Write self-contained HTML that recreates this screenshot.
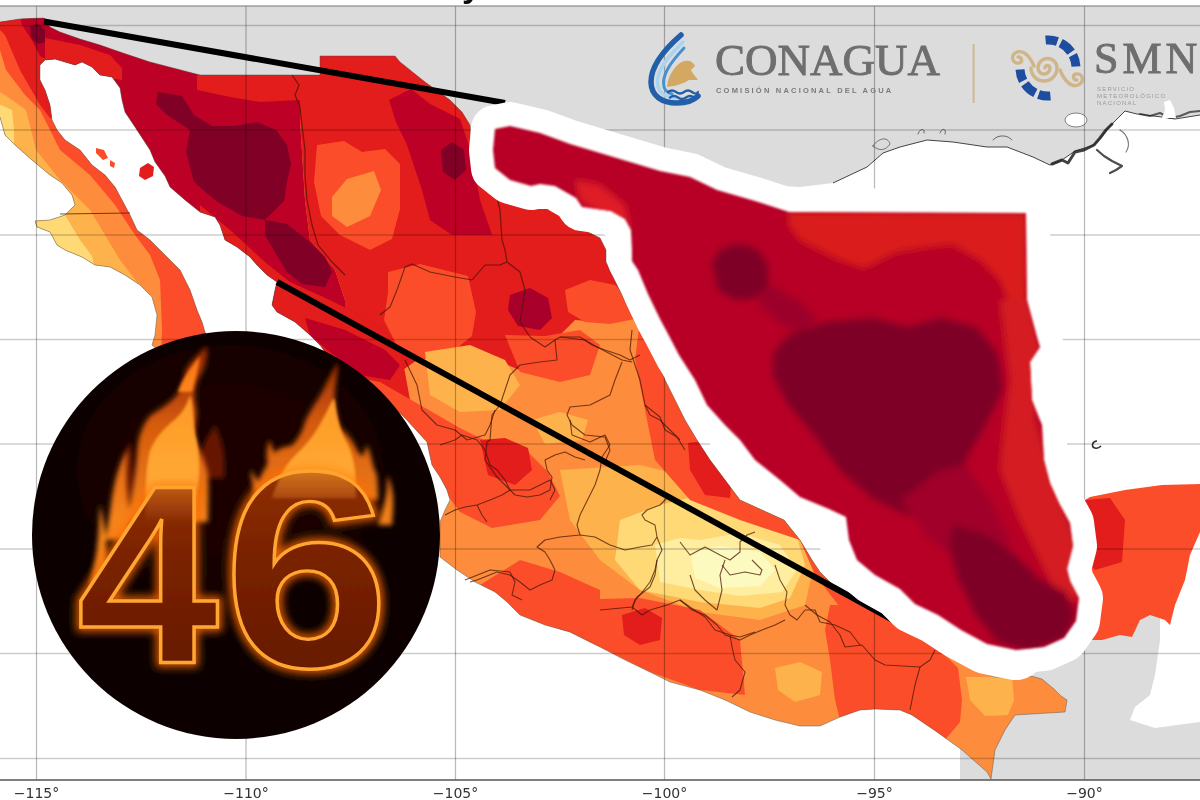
<!DOCTYPE html>
<html><head><meta charset="utf-8"><title>Mapa de temperaturas máximas</title>
<style>
html,body{margin:0;padding:0;width:1200px;height:800px;overflow:hidden;background:#fff}
svg{display:block}
</style></head><body>
<svg width="1200" height="800" viewBox="0 0 1200 800">
<defs>
 <clipPath id="mx"><path d="M-5,22 L0,22 L20,19 L44,18 L50,27 L60,32 L80,39 L100,45 L120,52 L150,62 L200,75 L320,75 L320,56 L395,56 L400,62 L425,82 L450,100 L462,112 L470,125 L472,150 L475,172 L489,192 L510,204 L540,207 L556,211 L570,221 L586,231 L600,238 L606,250 L606,262 L612,275 L618,287 L624,299 L630,312 L637,325 L645,338 L657,360 L665,380 L675,400 L685,420 L697,440 L710,460 L725,480 L740,500 L762,510 L784,520 L800,540 L812,560 L820,572 L836,588 L852,600 L870,608 L886,616 L900,626 L916,636 L930,642 L944,648 L960,656 L975,668 L994,677 L1012,677 L1031,676 L1042,679 L1054,689 L1061,696 L1067,700 L1065,712 L1015,715 L1005,730 L995,750 L991,779 L987,772 L962,750 L937,732 L912,715 L900,710 L875,709 L860,710 L840,717 L820,726 L800,726 L775,720 L750,712 L725,700 L700,690 L670,682 L650,672 L625,660 L600,647 L570,632 L545,625 L520,615 L507,602 L495,592 L475,582 L457,570 L440,557 L440,522 L445,510 L450,500 L447,490 L440,477 L432,465 L427,442 L416,430 L405,418 L392,405 L375,390 L355,375 L340,365 L327,355 L320,345 L310,335 L295,322 L277,312 L272,305 L275,290 L277,282 L267,275 L257,265 L250,257 L237,247 L225,240 L220,225 L215,217 L200,212 L185,200 L170,187 L165,176 L155,162 L150,150 L135,127 L125,112 L122,100 L120,88 L112,77 L100,75 L92,67 L82,62 L75,65 L55,59 L45,60 L40,65 L40,80 L45,90 L50,105 L52,120 L57,130 L65,140 L80,150 L92,165 L105,175 L115,187 L122,200 L130,215 L137,230 L150,240 L165,255 L180,270 L190,290 L197,310 L202,322 L205,332 L215,360 L180,370 L152,345 L155,335 L157,315 L152,297 L140,285 L125,275 L110,267 L95,265 L82,257 L65,250 L57,245 L50,232 L37,227 L35,221 L50,220 L65,215 L75,205 L72,195 L62,183 L50,175 L32,160 L15,145 L5,135 L0,117 L-5,117 Z"/></clipPath>
 <clipPath id="rs"><path d="M495,129 L510,126 L540,133 L570,144 L600,153 L630,162 L660,171 L690,177 L717,190 L755,201 L789,212 L1026,213 L1027,300 L1037,337 L1040,347 L1030,362 L1032,400 L1042,425 L1044,460 L1050,483 L1059,503 L1070,523 L1073,546 L1067,569 L1070,581 L1079,598 L1076,621 L1064,638 L1044,647 L1016,650 L987,644 L961,630 L938,615 L915,604 L900,589 L875,575 L857,560 L849,540 L846,517 L829,509 L800,497 L780,480 L755,460 L740,440 L725,425 L707,405 L695,380 L679,355 L667,332 L660,319 L648,294 L638,270 L632,261 L632,250 L631,230 L625,219 L611,211 L582,207 L576,198 L555,186 L540,184 L531,186 L510,180 L495,168 L493,150 Z"/></clipPath>
 <clipPath id="circ"><circle cx="236" cy="535" r="204"/></clipPath>
 <filter id="global" x="0" y="0" width="1200" height="800" filterUnits="userSpaceOnUse"><feGaussianBlur stdDeviation="0.55" edgeMode="duplicate"/></filter>
 <filter id="soft" x="-5%" y="-5%" width="110%" height="110%"><feGaussianBlur stdDeviation="0.7"/></filter>
 <filter id="blob" x="-5%" y="-5%" width="110%" height="110%"><feGaussianBlur stdDeviation="3.5"/></filter>
 <filter id="edge" x="-5%" y="-5%" width="110%" height="110%"><feGaussianBlur stdDeviation="1.3"/></filter>
 <filter id="glow" x="-20%" y="-20%" width="140%" height="140%"><feGaussianBlur stdDeviation="4"/></filter>
 <filter id="fl" x="-50%" y="-50%" width="200%" height="200%"><feGaussianBlur stdDeviation="2.5"/></filter>
 <filter id="fl2" x="-50%" y="-50%" width="200%" height="200%"><feGaussianBlur stdDeviation="1.6"/></filter>
 <filter id="haze" x="-50%" y="-50%" width="200%" height="200%"><feGaussianBlur stdDeviation="30"/></filter>
 <linearGradient id="fgo" gradientUnits="userSpaceOnUse" x1="0" y1="345" x2="0" y2="520"><stop offset="0" stop-color="#9a2800"/><stop offset="0.45" stop-color="#e0600c"/><stop offset="1" stop-color="#ff8a1c"/></linearGradient>
 <linearGradient id="fgi" gradientUnits="userSpaceOnUse" x1="0" y1="360" x2="0" y2="520"><stop offset="0" stop-color="#ff7a14"/><stop offset="0.6" stop-color="#ffa630"/><stop offset="1" stop-color="#ffc050"/></linearGradient>
 <linearGradient id="fgov" gradientUnits="userSpaceOnUse" x1="0" y1="470" x2="0" y2="524"><stop offset="0" stop-color="#ffa630" stop-opacity="0.75"/><stop offset="1" stop-color="#ff8a20" stop-opacity="0"/></linearGradient>
 <linearGradient id="dg" x1="0" y1="0" x2="0" y2="1"><stop offset="0" stop-color="#a03a08"/><stop offset="0.45" stop-color="#7a2204"/><stop offset="1" stop-color="#5e1602"/></linearGradient>
</defs>
<g filter="url(#global)">
<rect width="1200" height="800" fill="#fff"/>
<path d="M0,6 L1200,6 L1200,115 L1175,119 L1162,117 L1137,114 L1125,111 L1116,120 L1110,126 L1102,136 L1094,145 L1075,151 L1062,160 L1050,165 L1033,157 L1007,147 L987,147 L953,142 L927,140 L900,147 L883,153 L867,167 L833,183 L800,187 L760,185 L700,200 L480,200 L300,100 L0,30 Z" fill="#dcdcdc"/>
<path d="M1000,640 L1100,600 L1160,600 L1160,640 L1155,675 L1150,695 L1135,707 L1130,720 L1155,728 L1200,722 L1200,780 L960,780 L960,700 Z" fill="#dcdcdc"/>
<polyline points="1200,115 1175,119 1162,117 1137,114 1125,111 1116,120 1110,126 1102,136 1094,145 1075,151 1062,160 1050,165 1033,157 1007,147 987,147 953,142 927,140 900,147 883,153 867,167 833,183" fill="none" stroke="#444" stroke-width="1"/>
<ellipse cx="1076" cy="120" rx="11" ry="7" fill="#fff" stroke="#666" stroke-width="0.8"/>
<g fill="none" stroke="#222" stroke-linecap="round" stroke-linejoin="round">
 <path d="M1052,164 L1062,160 L1068,163 L1075,152 L1084,150 L1094,145 L1100,138 L1106,130 L1112,124" stroke-width="3" stroke-opacity="0.85"/>
 <path d="M1097,150 L1104,156 L1112,161 L1122,166 L1116,170 L1110,173" stroke-width="2.2" stroke-opacity="0.8"/>
 <path d="M1120,130 C1128,135 1131,145 1126,152" stroke-width="1.2" stroke-opacity="0.6"/>
 <path d="M1140,114 L1150,116 L1160,113 L1170,118 L1180,116 L1190,112 L1200,111" stroke-width="2" stroke-opacity="0.7"/>
 <path d="M873,146 C878,138 888,136 890,144 C886,150 880,152 873,146 Z" stroke-width="0.8" stroke-opacity="0.7"/>
 <path d="M918,134 C920,128 925,128 924,133 M940,133 C942,127 947,129 945,134" stroke-width="0.9" stroke-opacity="0.7"/>
 <path d="M993,140 C998,134 1008,135 1012,140" stroke-width="0.9" stroke-opacity="0.7"/>
</g>
<path d="M1097,441 C1092,441 1091,447 1095,448 C1098,449 1100,447 1101,446" fill="none" stroke="#333" stroke-width="1.6"/>
<path d="M1164,102 L1170,100 L1174,108 L1176,118 L1162,118 L1165,110 Z" fill="#fff"/>
<g filter="url(#soft)">
<path d="M-5,22 L0,22 L20,19 L44,18 L50,27 L60,32 L80,39 L100,45 L120,52 L150,62 L200,75 L320,75 L320,56 L395,56 L400,62 L425,82 L450,100 L462,112 L470,125 L472,150 L475,172 L489,192 L510,204 L540,207 L556,211 L570,221 L586,231 L600,238 L606,250 L606,262 L612,275 L618,287 L624,299 L630,312 L637,325 L645,338 L657,360 L665,380 L675,400 L685,420 L697,440 L710,460 L725,480 L740,500 L762,510 L784,520 L800,540 L812,560 L820,572 L836,588 L852,600 L870,608 L886,616 L900,626 L916,636 L930,642 L944,648 L960,656 L975,668 L994,677 L1012,677 L1031,676 L1042,679 L1054,689 L1061,696 L1067,700 L1065,712 L1015,715 L1005,730 L995,750 L991,779 L987,772 L962,750 L937,732 L912,715 L900,710 L875,709 L860,710 L840,717 L820,726 L800,726 L775,720 L750,712 L725,700 L700,690 L670,682 L650,672 L625,660 L600,647 L570,632 L545,625 L520,615 L507,602 L495,592 L475,582 L457,570 L440,557 L440,522 L445,510 L450,500 L447,490 L440,477 L432,465 L427,442 L416,430 L405,418 L392,405 L375,390 L355,375 L340,365 L327,355 L320,345 L310,335 L295,322 L277,312 L272,305 L275,290 L277,282 L267,275 L257,265 L250,257 L237,247 L225,240 L220,225 L215,217 L200,212 L185,200 L170,187 L165,176 L155,162 L150,150 L135,127 L125,112 L122,100 L120,88 L112,77 L100,75 L92,67 L82,62 L75,65 L55,59 L45,60 L40,65 L40,80 L45,90 L50,105 L52,120 L57,130 L65,140 L80,150 L92,165 L105,175 L115,187 L122,200 L130,215 L137,230 L150,240 L165,255 L180,270 L190,290 L197,310 L202,322 L205,332 L215,360 L180,370 L152,345 L155,335 L157,315 L152,297 L140,285 L125,275 L110,267 L95,265 L82,257 L65,250 L57,245 L50,232 L37,227 L35,221 L50,220 L65,215 L75,205 L72,195 L62,183 L50,175 L32,160 L15,145 L5,135 L0,117 L-5,117 Z" fill="#fd8d3c"/>
<g clip-path="url(#mx)">
<path d="M0,50 L6,70 L25,95 L40,110 L60,150 L90,175 L115,205 L135,235 L150,255 L160,280 L162,330 L160,380 L215,380 L220,340 L215,300 L200,260 L180,230 L150,195 L120,165 L100,130 L80,100 L60,70 L45,40 L45,10 L0,10 Z" fill="#fc4e2a" /><path d="M0,10 L45,10 L45,40 L60,70 L62,120 L50,118 L40,105 L20,70 L5,35 L0,30 Z" fill="#e31a1c" /><path d="M18,10 L48,10 L48,60 L40,56 L32,40 L22,25 Z" fill="#bd0026" /><path d="M30,26 L38,24 L45,30 L45,42 L38,44 L31,38 Z" fill="#800026" /><path d="M-10,85 L12,100 L26,110 L36,150 L60,180 L90,210 L105,235 L120,260 L140,286 L152,330 L155,380 L-10,380 Z" fill="#feb24c" /><path d="M-10,100 L12,110 L14,130 L14,150 L30,170 L50,190 L65,215 L80,240 L92,256 L100,290 L-10,290 Z" fill="#fed976" /><path d="M45,0 L320,0 L320,75 L300,75 L300,120 L305,200 L310,240 L335,270 L345,300 L345,345 L240,345 L235,300 L200,250 L150,200 L110,150 L85,100 L45,57 Z" fill="#bd0026" /><path d="M45,38 L80,45 L110,55 L122,68 L122,80 L95,76 L60,64 L45,60 Z" fill="#e31a1c" /><path d="M197,74 L300,74 L300,100 L260,102 L230,97 L197,90 Z" fill="#e31a1c" /><path d="M300,30 L480,30 L480,130 L520,190 L600,225 L630,270 L640,300 L630,318 L600,322 L575,320 L560,335 L545,350 L520,370 L490,358 L470,350 L440,360 L420,358 L400,372 L380,380 L345,345 L345,300 L335,270 L310,240 L305,200 L300,120 Z" fill="#e31a1c" /><path d="M200,205 L230,230 L265,262 L290,282 L330,300 L370,320 L400,345 L410,400 L380,420 L300,380 L260,330 L230,280 L200,240 Z" fill="#e31a1c" /><path d="M305,318 L345,330 L385,350 L400,365 L390,380 L360,375 L330,352 L310,335 Z" fill="#bd0026" /><path d="M158,92 L182,96 L194,115 L212,126 L235,126 L257,122 L276,130 L287,145 L291,164 L287,182 L284,201 L265,220 L242,216 L216,201 L194,182 L186,152 L190,130 L167,115 L156,104 Z" fill="#800026" /><path d="M265,220 L287,224 L310,242 L325,257 L332,272 L325,287 L302,284 L287,272 L276,254 L265,235 Z" fill="#800026" /><path d="M317,145 L344,141 L362,152 L385,149 L400,164 L400,209 L392,239 L370,250 L340,235 L321,216 L314,182 Z" fill="#fc4e2a" /><path d="M332,197 L347,179 L374,171 L381,190 L370,216 L347,227 L332,216 Z" fill="#fd8d3c" /><path d="M389,100 L411,89 L430,104 L460,119 L471,152 L480,200 L492,235 L452,235 L430,220 L422,190 L407,145 L396,122 Z" fill="#bd0026" /><path d="M441,150 L452,142 L464,150 L466,170 L455,180 L443,172 Z" fill="#800026" /><path d="M388,272 L420,264 L468,276 L476,312 L472,336 L452,352 L420,360 L396,344 L384,320 L388,292 Z" fill="#fc4e2a" /><path d="M505,335 L545,336 L580,330 L600,345 L590,375 L560,382 L520,372 Z" fill="#fc4e2a" /><path d="M510,295 L530,288 L548,298 L552,318 L540,330 L518,326 L508,310 Z" fill="#a8002a" /><path d="M565,290 L590,280 L615,285 L632,300 L640,318 L610,324 L585,322 L568,312 Z" fill="#fc4e2a" /><path d="M330,372 L380,382 L420,405 L460,428 L484,440 L524,448 L548,472 L560,496 L540,520 L492,528 L460,512 L436,480 L420,460 L400,450 L360,420 Z" fill="#fc4e2a" /><path d="M480,440 L505,438 L528,448 L532,470 L515,485 L488,475 Z" fill="#e31a1c" /><path d="M532,420 L560,412 L588,420 L582,440 L545,444 Z" fill="#feb24c" /><path d="M560,470 L640,465 L700,480 L760,490 L800,515 L815,560 L805,605 L760,620 L700,612 L640,590 L600,560 L570,520 Z" fill="#feb24c" /><path d="M425,352 L470,345 L505,360 L520,385 L500,410 L460,412 L430,395 Z" fill="#feb24c" /><path d="M620,520 L660,505 L700,495 L760,505 L795,530 L805,565 L790,598 L760,608 L700,602 L640,590 L615,560 Z" fill="#fed976" /><path d="M655,545 L680,538 L700,540 L740,533 L780,545 L797,570 L782,592 L740,596 L700,590 L660,582 Z" fill="#ffeda0" /><path d="M690,552 L720,546 L760,552 L775,570 L760,586 L720,588 L695,578 Z" fill="#fdfac0" /><path d="M640,320 L665,345 L700,400 L745,455 L800,510 L840,580 L880,620 L940,650 L900,660 L850,620 L815,575 L800,540 L740,520 L690,500 L655,460 L645,410 L635,360 Z" fill="#fc4e2a" /><path d="M688,443 L710,440 L732,470 L730,498 L705,495 L690,470 Z" fill="#e31a1c" /><path d="M655,330 L690,375 L720,420 L760,460 L800,490 L830,505 L780,500 L740,470 L705,430 L675,390 Z" fill="#e31a1c" /><path d="M480,585 L520,560 L560,572 L600,590 L600,647 L570,632 L545,625 L520,615 L507,602 L495,592 Z" fill="#fc4e2a" /><path d="M560,600 L640,598 L700,610 L740,640 L745,695 L700,690 L650,672 L600,647 L560,630 Z" fill="#fc4e2a" /><path d="M622,615 L645,608 L662,618 L660,640 L640,645 L624,635 Z" fill="#e31a1c" /><path d="M830,605 L870,605 L940,650 L958,668 L962,700 L960,722 L945,740 L930,732 L900,710 L860,712 L840,720 L835,700 L830,660 L825,630 Z" fill="#fc4e2a" /><path d="M775,668 L800,662 L822,672 L820,695 L795,702 L778,690 Z" fill="#feb24c" /><path d="M966,677 L1012,677 L1014,700 L1008,715 L985,716 L970,700 Z" fill="#feb24c" />
</g>
<path d="M-5,22 L0,22 L20,19 L44,18 L50,27 L60,32 L80,39 L100,45 L120,52 L150,62 L200,75 L320,75 L320,56 L395,56 L400,62 L425,82 L450,100 L462,112 L470,125 L472,150 L475,172 L489,192 L510,204 L540,207 L556,211 L570,221 L586,231 L600,238 L606,250 L606,262 L612,275 L618,287 L624,299 L630,312 L637,325 L645,338 L657,360 L665,380 L675,400 L685,420 L697,440 L710,460 L725,480 L740,500 L762,510 L784,520 L800,540 L812,560 L820,572 L836,588 L852,600 L870,608 L886,616 L900,626 L916,636 L930,642 L944,648 L960,656 L975,668 L994,677 L1012,677 L1031,676 L1042,679 L1054,689 L1061,696 L1067,700 L1065,712 L1015,715 L1005,730 L995,750 L991,779 L987,772 L962,750 L937,732 L912,715 L900,710 L875,709 L860,710 L840,717 L820,726 L800,726 L775,720 L750,712 L725,700 L700,690 L670,682 L650,672 L625,660 L600,647 L570,632 L545,625 L520,615 L507,602 L495,592 L475,582 L457,570 L440,557 L440,522 L445,510 L450,500 L447,490 L440,477 L432,465 L427,442 L416,430 L405,418 L392,405 L375,390 L355,375 L340,365 L327,355 L320,345 L310,335 L295,322 L277,312 L272,305 L275,290 L277,282 L267,275 L257,265 L250,257 L237,247 L225,240 L220,225 L215,217 L200,212 L185,200 L170,187 L165,176 L155,162 L150,150 L135,127 L125,112 L122,100 L120,88 L112,77 L100,75 L92,67 L82,62 L75,65 L55,59 L45,60 L40,65 L40,80 L45,90 L50,105 L52,120 L57,130 L65,140 L80,150 L92,165 L105,175 L115,187 L122,200 L130,215 L137,230 L150,240 L165,255 L180,270 L190,290 L197,310 L202,322 L205,332 L215,360 L180,370 L152,345 L155,335 L157,315 L152,297 L140,285 L125,275 L110,267 L95,265 L82,257 L65,250 L57,245 L50,232 L37,227 L35,221 L50,220 L65,215 L75,205 L72,195 L62,183 L50,175 L32,160 L15,145 L5,135 L0,117 L-5,117 Z" fill="none" stroke="#555" stroke-width="0.8" stroke-opacity="0.6"/>
<g fill="none" stroke="#4a1808" stroke-width="1.1" stroke-opacity="0.75" stroke-linejoin="round"><polyline points="570,420 572,435 590,442 605,435 610,445 602,457 600,470 595,485 590,495 585,505 580,515 577,525 580,535 560,537 545,540 537,547 545,552 550,560 555,570 552,580 540,585 530,590 520,582 510,575 497,572 477,580 470,582"/><polyline points="580,535 595,537 610,545 625,550 640,547 652,545 657,537 655,525 645,520 642,515 647,510 660,505 670,495"/><polyline points="657,537 662,550 657,560 655,570 650,582 640,595 635,600 632,610"/><polyline points="440,445 455,440 462,435 477,440 485,450 490,465 497,470 505,480 510,490 515,495 527,497 540,495 550,490 552,477 547,470 545,460 555,455 565,452 575,457 585,460"/><polyline points="510,490 502,495 490,500 477,505 465,507 455,510 445,515"/><polyline points="477,505 482,515 487,522"/><polyline points="465,580 490,570 510,572 515,582 512,595 522,600"/><polyline points="60,214 130,213"/><polyline points="292,75 299,85 295,95 300,107 302,125 305,150 305,175 307,200 312,225 318,245 332,262 345,275"/><polyline points="380,315 390,307 397,290 405,267 412,264 430,272 455,277 472,280 485,265 500,265 507,262 505,250 502,240 500,210 495,190"/><polyline points="507,262 520,272 525,290 522,310 520,322 530,337 545,347 555,340 560,337 580,337 592,345 605,350 620,355 630,360 640,355"/><polyline points="555,340 557,360 540,362 520,365 510,375 505,390 500,405 492,415 490,440 487,442 485,460 497,477 510,490 530,490 550,480 555,490 550,500"/><polyline points="632,330 630,350 635,365 640,380 645,405 650,415 660,420 670,430 680,440"/><polyline points="560,337 585,340 597,347 622,360 632,362"/><polyline points="622,362 615,380 610,395 590,405 570,407 567,415 572,425 585,435 605,437 610,450 605,462"/><polyline points="645,405 660,417 665,430 677,437 685,450"/><polyline points="405,360 417,385 422,410 437,425 455,430 467,440 485,435 490,425 495,410"/><polyline points="680,542 690,555 705,547 720,555 730,560 740,552 740,542 747,535 755,532"/><polyline points="722,565 730,575 745,572 760,575 762,570 752,560"/><polyline points="775,565 780,580 787,592 785,605 790,615 797,620 805,610 815,610 820,622 835,625 850,632 860,645"/><polyline points="680,600 692,610 705,615 717,625 725,635 740,640 750,635 762,630 775,625 785,620"/><polyline points="600,610 632,607 637,597 650,587 655,575 657,560"/><polyline points="632,607 642,615 650,610 667,605 680,600 690,607 705,617 715,630 730,635 740,637 755,632"/><polyline points="730,635 732,647 735,660 745,672 740,690 732,697"/><polyline points="690,575 695,590 705,600 717,610 722,590 720,575 725,560"/><polyline points="805,605 817,615 830,622 840,635 845,647 862,645 875,660 885,665 920,667 930,660 935,650"/><polyline points="920,667 915,685 912,700 910,710"/><polyline points="1185,485 1185,505 1175,525 1160,537 1140,550 1120,565 1110,567 1100,555"/><polyline points="1117,567 1117,605 1120,635"/></g>
<path d="M1085,500 L1090,497 L1125,490 L1162,485 L1200,484 L1200,532 L1190,555 L1185,580 L1175,605 L1170,625 L1165,620 L1150,615 L1140,620 L1132,637 L1120,635 L1102,640 L1085,640 Z" fill="#fc4e2a"/>
<path d="M140,168 L148,163 L154,167 L153,176 L145,180 L139,176 Z" fill="#e31a1c"/>
<path d="M96,148 L104,150 L108,158 L103,160 L96,153 Z M110,160 L115,163 L114,168 L110,166 Z" fill="#fc4e2a"/>
<path d="M1085,500 L1110,498 L1125,520 L1122,562 L1095,570 L1085,560 Z" fill="#e31a1c"/>
</g>
<line x1="36.5" y1="6" x2="36.5" y2="780" stroke="#000" stroke-opacity="0.28" stroke-width="1.2"/>
<line x1="246" y1="6" x2="246" y2="780" stroke="#000" stroke-opacity="0.28" stroke-width="1.2"/>
<line x1="455.5" y1="6" x2="455.5" y2="780" stroke="#000" stroke-opacity="0.28" stroke-width="1.2"/>
<line x1="664.5" y1="6" x2="664.5" y2="780" stroke="#000" stroke-opacity="0.28" stroke-width="1.2"/>
<line x1="874.5" y1="6" x2="874.5" y2="780" stroke="#000" stroke-opacity="0.28" stroke-width="1.2"/>
<line x1="1084.5" y1="6" x2="1084.5" y2="780" stroke="#000" stroke-opacity="0.28" stroke-width="1.2"/>
<line x1="0" y1="25.5" x2="1200" y2="25.5" stroke="#000" stroke-opacity="0.2" stroke-width="1.6"/>
<line x1="0" y1="130" x2="1200" y2="130" stroke="#000" stroke-opacity="0.2" stroke-width="1.6"/>
<line x1="0" y1="235" x2="1200" y2="235" stroke="#000" stroke-opacity="0.2" stroke-width="1.6"/>
<line x1="0" y1="339.5" x2="1200" y2="339.5" stroke="#000" stroke-opacity="0.2" stroke-width="1.6"/>
<line x1="0" y1="444" x2="1200" y2="444" stroke="#000" stroke-opacity="0.2" stroke-width="1.6"/>
<line x1="0" y1="549" x2="1200" y2="549" stroke="#000" stroke-opacity="0.2" stroke-width="1.6"/>
<line x1="0" y1="653.5" x2="1200" y2="653.5" stroke="#000" stroke-opacity="0.2" stroke-width="1.6"/>
<line x1="0" y1="758.5" x2="1200" y2="758.5" stroke="#000" stroke-opacity="0.2" stroke-width="1.6"/>
<line x1="0" y1="6" x2="1200" y2="6" stroke="#777" stroke-width="1.2"/>
<line x1="0" y1="780" x2="1200" y2="780" stroke="#555" stroke-width="1.3"/>
<g font-family="DejaVu Sans, sans-serif" font-size="14" fill="#333" text-anchor="middle">
<text x="36.5" y="798">−115°</text><text x="246" y="798">−110°</text><text x="455.5" y="798">−105°</text><text x="664.5" y="798">−100°</text><text x="874.5" y="798">−95°</text><text x="1084.5" y="798">−90°</text>
</g>
<text x="462" y="-3" font-family="Liberation Sans, sans-serif" font-weight="bold" font-size="34" fill="#111">y</text>

<g fill="none" stroke-linecap="round">
 <path d="M681,35 C666,48 651,64 651,82 C651,96 662,103 677,103 C687,103 694,100 698,96" stroke="#245fa8" stroke-width="5.5"/>
 <path d="M683,42 C670,55 657.5,68 657.5,82 C657.5,93 666,98 678,98" stroke="#a8d4f0" stroke-width="3.5"/>
 <path d="M684,48 C674,59 663.5,71 663.5,83 C663.5,89 667,93 672,94" stroke="#4a90d0" stroke-width="3"/>
 <path d="M668,92 q4,-3 8,0 t8,0 t8,0 t6,0" stroke="#245fa8" stroke-width="2.2"/>
 <path d="M670,97.5 q4,-3 8,0 t8,0 t8,0" stroke="#245fa8" stroke-width="2.2"/>
</g>
<path d="M667,87 C668,77 673,68 680,63 C687,59 693,61 695,66 L691,70 C693,74 696,77 698,80 L689,80 C685,83 676,86 667,87 Z" fill="#d3a862"/>
<g fill="none" stroke="#1d4e9e" stroke-width="9">
 <path d="M1045.6,40.1 A28,28 0 0 1 1076,66.5" stroke-dasharray="12 3.5 14 3.5 13"/>
 <path d="M1050.4,95.9 A28,28 0 0 1 1020,69.5" stroke-dasharray="12 3.5 14 3.5 13"/>
</g>
<g fill="none" stroke="#cfb588" stroke-width="3.4" stroke-linecap="round">
 <path d="M1047,68 m-2,0 a2.5,2.5 0 1 1 5,0 a6,6 0 1 1 -12,0 a9.5,9.5 0 1 1 19,0 a13,13 0 1 1 -26,0"/>
 <path d="M1034,66 C1030,57 1024,50 1017,52 C1010,55 1012,64 1019,63 C1023,62 1022,57 1018,57"/>
 <path d="M1060,70 C1064,80 1071,88 1078,85 C1085,82 1083,73 1076,74 C1072,75 1073,80 1077,80"/>
</g>
<g font-family="Liberation Serif, serif" fill="#6e6e6e" stroke="#6e6e6e" stroke-width="0.9">
 <text x="715" y="75" font-size="45">CONAGUA</text>
 <text x="1094" y="73" font-size="44" letter-spacing="4">SMN</text>
</g>
<text x="716" y="92.5" font-family="Liberation Sans, sans-serif" font-weight="bold" font-size="7.5" fill="#7a7a7a" letter-spacing="2.2">COMISIÓN NACIONAL DEL AGUA</text>
<g font-family="Liberation Sans, sans-serif" font-size="6" fill="#9a9a9a" letter-spacing="1.2">
 <text x="1097" y="91">SERVICIO</text>
 <text x="1097" y="98">METEOROLÓGICO</text>
 <text x="1097" y="105">NACIONAL</text>
</g>
<line x1="973.6" y1="44" x2="973.6" y2="103" stroke="#cdb994" stroke-width="2"/>

<!-- black lines -->
<path d="M44,21.5 L505,103" stroke="#000" stroke-width="6"/>
<path d="M277,282 L955,654" stroke="#000" stroke-width="6"/>
<!-- zoom blob -->
<path d="M495,129 L510,126 L540,133 L570,144 L600,153 L630,162 L660,171 L690,177 L717,190 L755,201 L789,212 L1026,213 L1027,300 L1037,337 L1040,347 L1030,362 L1032,400 L1042,425 L1044,460 L1050,483 L1059,503 L1070,523 L1073,546 L1067,569 L1070,581 L1079,598 L1076,621 L1064,638 L1044,647 L1016,650 L987,644 L961,630 L938,615 L915,604 L900,589 L875,575 L857,560 L849,540 L846,517 L829,509 L800,497 L780,480 L755,460 L740,440 L725,425 L707,405 L695,380 L679,355 L667,332 L660,319 L648,294 L638,270 L632,261 L632,250 L631,230 L625,219 L611,211 L582,207 L576,198 L555,186 L540,184 L531,186 L510,180 L495,168 L493,150 Z" fill="#fff" stroke="#fff" stroke-width="48" stroke-linejoin="round"/>
<polyline points="846,517 849,540 857,560 875,575 900,589 915,604 938,615 961,630 987,644 1016,650" fill="none" stroke="#fff" stroke-width="60" stroke-linejoin="round" stroke-linecap="round"/>
<g filter="url(#edge)">
<path d="M495,129 L510,126 L540,133 L570,144 L600,153 L630,162 L660,171 L690,177 L717,190 L755,201 L789,212 L1026,213 L1027,300 L1037,337 L1040,347 L1030,362 L1032,400 L1042,425 L1044,460 L1050,483 L1059,503 L1070,523 L1073,546 L1067,569 L1070,581 L1079,598 L1076,621 L1064,638 L1044,647 L1016,650 L987,644 L961,630 L938,615 L915,604 L900,589 L875,575 L857,560 L849,540 L846,517 L829,509 L800,497 L780,480 L755,460 L740,440 L725,425 L707,405 L695,380 L679,355 L667,332 L660,319 L648,294 L638,270 L632,261 L632,250 L631,230 L625,219 L611,211 L582,207 L576,198 L555,186 L540,184 L531,186 L510,180 L495,168 L493,150 Z" fill="#b80426"/>
<g clip-path="url(#rs)">
<g filter="url(#blob)">
<path d="M789,212 L1026,213 L1026,300 L1008,300 L1000,280 L980,260 L952,244 L920,248 L896,252 L864,268 L840,260 L800,240 L789,225 Z" fill="#da1a1a" /><path d="M1000,300 L1030,300 L1040,350 L1035,420 L1050,470 L1075,540 L1078,600 L1060,600 L1040,560 L1020,520 L1000,470 L1005,420 L1010,380 Z" fill="#d41a22" /><path d="M575,180 L600,185 L625,205 L630,230 L615,225 L595,210 L580,200 Z" fill="#e01a28" /><path d="M758,280 L780,290 L800,302 L818,318 L800,335 L778,322 L760,305 Z" fill="#9c0629" /><path d="M712,262 L722,248 L740,244 L758,250 L768,265 L768,285 L756,298 L735,300 L718,290 Z" fill="#7e0026" /><path d="M773,354 L787,336 L827,322 L872,318 L908,327 L940,318 L976,327 L998,354 L1003,390 L985,426 L967,457 L958,489 L940,507 L908,516 L872,498 L841,471 L814,435 L787,403 L773,376 Z" fill="#7e0026" /><path d="M900,500 L940,470 L965,465 L990,500 L1010,540 L1000,560 L960,560 L930,540 Z" fill="#a00429" /><path d="M953,525 L985,534 L1012,552 L1039,579 L1066,592 L1075,615 L1066,637 L1030,651 L998,642 L976,615 L958,579 L949,547 Z" fill="#7e0026" />
</g>
</g>
</g>

<circle cx="236" cy="535" r="204" fill="#0c0300"/>
<g clip-path="url(#circ)">
 <ellipse cx="230" cy="470" rx="150" ry="120" fill="#3a0e02" opacity="0.35" filter="url(#haze)"/>
 <g filter="url(#fl)" fill="#7a1c02" opacity="0.8"><path d="M194,478 C198,455 205,440 215,425 C222,440 226,455 224,478 Z"/><path d="M110,535 C115,500 120,470 130,440 C134,470 136,500 138,535 Z"/></g>
 <g filter="url(#fl)" fill="url(#fgo)" opacity="0.95"><path d="M127,522 C132,495 136,470 137,452 C138,438 142,425 150,416 C158,410 168,405 176,396 C182,388 184,378 186,370 C190,362 198,354 207,346 C208,356 206,365 201,374 C196,382 193,392 196,407 C198,418 193,428 196,440 C200,452 206,462 208,475 C209,490 208,505 208,522 Z"/><path d="M252,500 C258,485 262,470 270,461 C272,452 280,447 291,446 C298,440 302,432 305,422 C310,410 318,400 322,392 C328,380 333,370 338,362 C338,372 336,380 335,392 C334,405 336,420 342,430 C350,436 354,444 358,452 C364,458 372,464 376,472 C378,480 378,490 378,500 Z"/><path d="M105.0,540.0 Q106.9,530.8 107.7,526.2 Q108.5,521.6 109.2,517.0 Q109.9,512.4 110.5,507.8 Q111.1,503.2 111.8,498.6 Q112.5,494.0 113.4,489.4 Q114.3,484.8 115.4,480.2 Q116.6,475.6 118.1,471.0 Q119.5,466.4 121.4,461.8 Q123.3,457.2 125.7,452.6 Q128.1,448.0 128.1,448.0 Q128.1,448.0 127.7,452.6 Q127.4,457.2 127.1,461.8 Q126.7,466.4 126.6,471.0 Q126.5,475.6 126.6,480.2 Q126.8,484.8 127.1,489.4 Q127.5,494.0 127.9,498.6 Q128.4,503.2 128.9,507.8 Q129.4,512.4 129.9,517.0 Q130.3,521.6 130.6,526.2 Q130.8,530.8 130.9,535.4 L131.0,540.0 Z"/><path d="M90.0,585.0 Q91.6,577.0 92.5,573.0 Q93.3,569.0 94.1,565.0 Q94.9,561.0 95.6,557.0 Q96.3,553.0 96.8,549.0 Q97.3,545.0 97.7,541.0 Q98.1,537.0 98.4,533.0 Q98.7,529.0 98.9,525.0 Q99.1,521.0 99.3,517.0 Q99.5,513.0 99.9,509.0 Q100.3,505.0 100.3,505.0 Q100.3,505.0 101.2,509.0 Q102.0,513.0 102.7,517.0 Q103.5,521.0 104.1,525.0 Q104.8,529.0 105.3,533.0 Q105.8,537.0 106.2,541.0 Q106.5,545.0 106.7,549.0 Q106.9,553.0 106.9,557.0 Q106.9,561.0 106.8,565.0 Q106.7,569.0 106.5,573.0 Q106.3,577.0 106.2,581.0 L106.0,585.0 Z"/><path d="M254.0,510.0 Q254.3,506.0 254.5,504.0 Q254.6,502.0 254.6,500.0 Q254.6,498.0 254.5,496.0 Q254.4,494.0 254.1,492.0 Q253.9,490.0 253.5,488.0 Q253.2,486.0 252.7,484.0 Q252.3,482.0 251.9,480.0 Q251.5,478.0 251.2,476.0 Q250.9,474.0 251.0,472.0 Q251.0,470.0 251.0,470.0 Q251.0,470.0 252.2,472.0 Q253.5,474.0 254.7,476.0 Q255.9,478.0 257.2,480.0 Q258.4,482.0 259.6,484.0 Q260.8,486.0 262.0,488.0 Q263.1,490.0 264.1,492.0 Q265.0,494.0 265.8,496.0 Q266.6,498.0 267.3,500.0 Q268.0,502.0 268.5,504.0 Q269.0,506.0 269.5,508.0 L270.0,510.0 Z"/><path d="M378.0,525.0 Q379.4,520.0 380.1,517.5 Q380.9,515.0 381.7,512.5 Q382.4,510.0 383.2,507.5 Q383.9,505.0 384.5,502.5 Q385.2,500.0 385.6,497.5 Q386.1,495.0 386.4,492.5 Q386.7,490.0 386.9,487.5 Q387.1,485.0 387.2,482.5 Q387.2,480.0 387.4,477.5 Q387.6,475.0 387.6,475.0 Q387.6,475.0 388.5,477.5 Q389.4,480.0 390.2,482.5 Q390.9,485.0 391.5,487.5 Q392.1,490.0 392.5,492.5 Q392.8,495.0 393.0,497.5 Q393.2,500.0 393.2,502.5 Q393.2,505.0 393.1,507.5 Q393.0,510.0 392.8,512.5 Q392.6,515.0 392.4,517.5 Q392.2,520.0 392.1,522.5 L392.0,525.0 Z"/><path d="M269.0,490.0 Q269.2,485.0 269.2,482.5 Q269.2,480.0 269.0,477.5 Q268.8,475.0 268.5,472.5 Q268.2,470.0 267.9,467.5 Q267.6,465.0 267.3,462.5 Q267.0,460.0 266.9,457.5 Q266.7,455.0 266.8,452.5 Q266.9,450.0 267.4,447.5 Q267.8,445.0 268.7,442.5 Q269.7,440.0 269.7,440.0 Q269.7,440.0 270.5,442.5 Q271.3,445.0 272.1,447.5 Q273.0,450.0 274.1,452.5 Q275.1,455.0 276.3,457.5 Q277.6,460.0 278.9,462.5 Q280.2,465.0 281.5,467.5 Q282.9,470.0 284.1,472.5 Q285.4,475.0 286.5,477.5 Q287.6,480.0 288.5,482.5 Q289.5,485.0 290.2,487.5 L291.0,490.0 Z"/><path d="M348.0,492.0 Q350.7,487.3 352.0,485.0 Q353.3,482.6 354.6,480.2 Q355.8,477.9 356.9,475.5 Q358.0,473.2 358.9,470.9 Q359.8,468.5 360.6,466.1 Q361.3,463.8 361.9,461.5 Q362.6,459.1 363.1,456.8 Q363.7,454.4 364.4,452.0 Q365.0,449.7 366.1,447.4 Q367.1,445.0 367.1,445.0 Q367.1,445.0 368.0,447.4 Q368.8,449.7 369.6,452.0 Q370.3,454.4 371.0,456.8 Q371.7,459.1 372.3,461.5 Q372.9,463.8 373.2,466.1 Q373.6,468.5 373.8,470.9 Q373.9,473.2 373.9,475.5 Q373.8,477.9 373.6,480.2 Q373.4,482.6 373.1,485.0 Q372.7,487.3 372.4,489.6 L372.0,492.0 Z"/></g>
 <g filter="url(#fl2)" fill="url(#fgi)" opacity="0.95"><path d="M145,522 C146,495 146,470 150,452 C155,438 165,428 175,420 C182,414 188,405 190,395 C194,410 192,425 196,440 C199,455 200,470 197,490 C195,505 196,512 196,522 Z"/><path d="M272,498 C278,478 286,465 296,455 C306,446 314,436 320,425 C326,415 330,405 334,398 C336,412 338,428 345,440 C352,452 356,466 356,498 Z"/><path d="M178,392 C182,380 190,368 200,356 C199,368 195,380 192,392 Z"/></g>
 <g font-family="Liberation Sans, sans-serif" font-weight="bold">
  <g filter="url(#glow)" opacity="0.9">
   <text x="77" y="663" font-size="255" fill="none" stroke="#ff6a00" stroke-width="9">4</text>
   <text transform="translate(223,666.5) scale(1.07,1)" x="0" y="0" font-size="280" fill="none" stroke="#ff6a00" stroke-width="9">6</text>
  </g>
  <text x="77" y="663" font-size="255" fill="url(#dg)" stroke="#ffa630" stroke-width="3.5">4</text>
  <text transform="translate(223,666.5) scale(1.07,1)" x="0" y="0" font-size="280" fill="url(#dg)" stroke="#ffa630" stroke-width="3.3">6</text>
 </g>
 <g filter="url(#fl2)" fill="url(#fgov)" opacity="0.8"><path d="M145,522 C146,495 146,470 150,452 C155,438 165,428 175,420 C182,414 188,405 190,395 C194,410 192,425 196,440 C199,455 200,470 197,490 C195,505 196,512 196,522 Z"/><path d="M272,498 C278,478 286,465 296,455 C306,446 314,436 320,425 C326,415 330,405 334,398 C336,412 338,428 345,440 C352,452 356,466 356,498 Z"/></g>
</g>

</g>
</svg>
</body></html>
